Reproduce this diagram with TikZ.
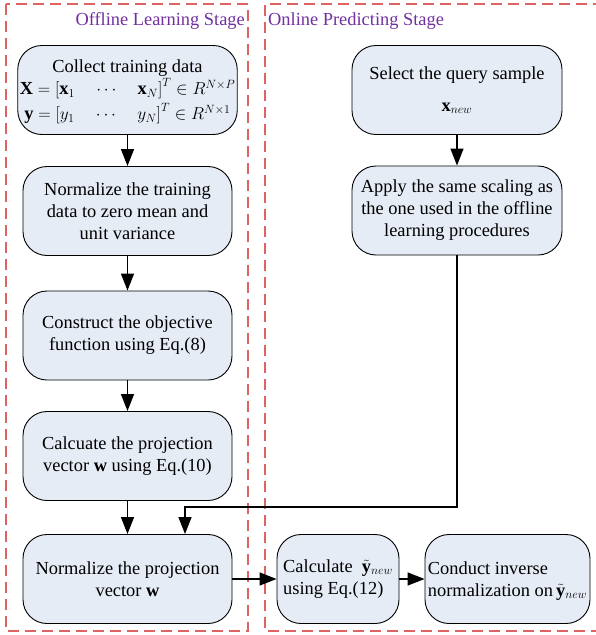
\documentclass[tikz,border=0pt]{standalone}
\usepackage{fontspec}
\setmainfont{Liberation Serif}
\usetikzlibrary{arrows.meta}
\definecolor{boxfill}{RGB}{230,236,246}
\definecolor{stagered}{RGB}{222,100,100}
\definecolor{stagepurple}{RGB}{112,48,160}
\tikzset{
  procbox/.style={draw=black, line width=0.9pt, fill=boxfill, rounded corners=24pt,
    align=center, inner sep=2pt, font=\fontsize{18.4}{22}\selectfont},
  mainbox/.style={procbox, minimum width=209pt, minimum height=89pt},
  flow/.style={line width=1.4pt, -{Triangle[length=17pt,width=13pt]}},
  stageframe/.style={draw=stagered, line width=1.4pt, dash pattern=on 11pt off 6pt},
  stagelabel/.style={text=stagepurple, font=\fontsize{18.4}{22}\selectfont, inner sep=0pt}
}
\begin{document}
\begin{tikzpicture}[x=1pt,y=-1pt]
\useasboundingbox (0,0) rectangle (596,635);
% stage frames
\draw[stageframe] (6,4) rectangle (248,631);
\draw[stageframe] (604,4) -- (265,4) -- (265,631) -- (604,631);
\node[stagelabel, anchor=base east] (offl) at (245,25) {Offline Learning Stage};
\node[stagelabel, anchor=base west] (onl) at (268,25) {Online Predicting Stage};
% offline boxes
\node[mainbox] (b1) at (127.5,90) {Collect training data\\[0pt]
  \smash{$\mathbf{X}=\bigl[\mathbf{x}_1\quad\cdots\quad\mathbf{x}_N\bigr]^T\in R^{N\times P}$}\\[3pt]
  \smash{$\mathbf{y}=\bigl[y_1\quad\cdots\quad y_N\bigr]^T\in R^{N\times 1}$}};
\node[mainbox] (b2) at (127.5,211) {Normalize the training\\data to zero mean and\\unit variance};
\node[mainbox] (b3) at (127.5,335.5) {Construct the objective\\function using Eq.(8)};
\node[mainbox] (b4) at (127.5,456) {Calcuate the projection\\vector $\mathbf{w}$ using Eq.(10)};
\node[mainbox] (b5) at (127.5,579) {Normalize the projection\\vector $\mathbf{w}$};
% online boxes
\node[mainbox, minimum width=210pt] (r1) at (457,90) {Select the query sample\\[10pt]$\mathbf{x}_{new}$};
\node[mainbox, minimum width=210pt] (r2) at (457,210.5) {Apply the same scaling as\\the one used in the offline\\learning procedures};
\node[procbox, minimum width=122pt, minimum height=89pt, align=left] (c) at (338,579) {Calculate\ \ \smash{$\tilde{\mathbf{y}}_{new}$}\\using Eq.(12)};
\node[procbox, minimum width=165pt, minimum height=89pt, align=left, inner sep=1pt] (d) at (507.5,579) {Conduct inverse\\normalization on\,\smash{$\tilde{\mathbf{y}}_{new}$}};
% connectors
\draw[flow] (b1) -- (b2);
\draw[flow] (b2) -- (b3);
\draw[flow] (b3) -- (b4);
\draw[flow] (b4) -- (b5);
\draw[flow] (r1) -- (r2);
\coordinate (turn) at (185,507);
\draw[flow] (r2.south) |- (turn) -- (turn |- b5.north);
\draw[flow] (b5) -- (c);
\draw[flow] (c) -- (d);
\end{tikzpicture}
\end{document}
